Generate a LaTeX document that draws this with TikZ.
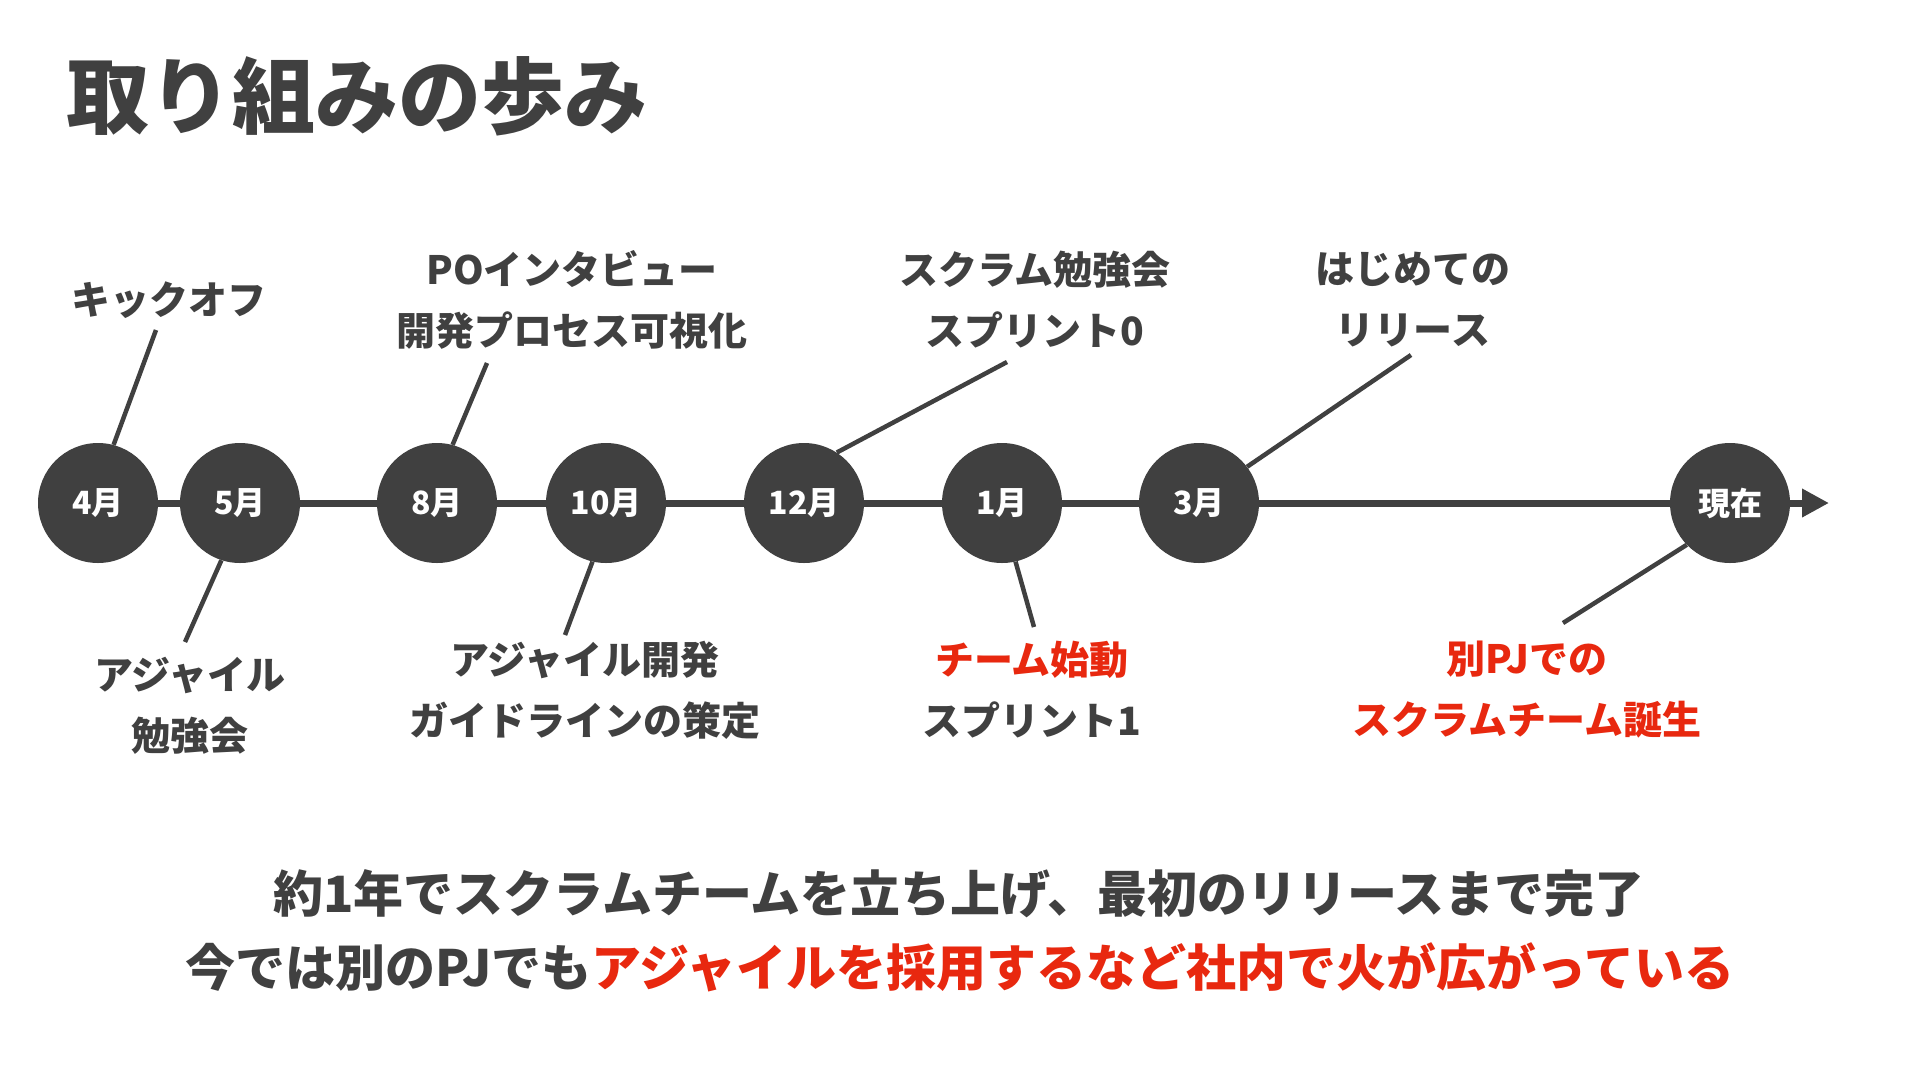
\documentclass[tikz,border=0pt]{standalone}
\usepackage{fontspec}
\setmainfont{Noto Sans CJK JP}
\usetikzlibrary{arrows.meta,backgrounds}
\definecolor{ink}{RGB}{64,64,64}
\definecolor{hot}{RGB}{232,40,15}
\tikzset{
  month/.style={circle,fill=ink,minimum size=120pt,inner sep=0pt,text=white,font=\bfseries\fontsize{32}{36}\selectfont},
  lbl/.style={inner sep=0pt,align=center,text=ink,font=\bfseries\fontsize{39}{61}\selectfont},
  conn/.style={draw=ink,line width=4.5pt},
  axis/.style={draw=ink,line width=7pt,-{Triangle[length=27pt,width=27pt]}},
}
\begin{document}
\begin{tikzpicture}[x=1pt,y=-1pt]
\useasboundingbox (0,0) rectangle (1920,1080);
% title
\node[anchor=west,inner sep=0pt,text=ink,font=\bfseries\fontsize{83}{90}\selectfont] (title) at (66,96) {取り組みの歩み};
% month circles
\node[month] (m4) at (98,503) {4月};
\node[month] (m5) at (240,503) {5月};
\node[month] (m8) at (437,503) {8月};
\node[month] (m10) at (606,503) {10月};
\node[month] (m12) at (804,503) {12月};
\node[month] (m1) at (1002,503) {1月};
\node[month] (m3) at (1199,503) {3月};
\node[month] (now) at (1730,503) {現在};
\coordinate (tip) at (1829,503);
\begin{scope}[on background layer]
\fill[white] (0,0) rectangle (1920,1080);
\draw[axis] (m4.center) -- (tip);
\end{scope}
% free ends of connectors
\coordinate (c4) at (156,330);
\coordinate (c8) at (487,363);
\coordinate (c12) at (1007,362);
\coordinate (c3) at (1411,355);
\coordinate (c5) at (185,642);
\coordinate (c10) at (565,635);
\coordinate (c1) at (1034,627);
\coordinate (cnow) at (1563,623);
\draw[conn] (m4.75) -- (c4);
\draw[conn] (m8.75) -- (c8);
\draw[conn] (m12.57) -- (c12);
\draw[conn] (m3.37) -- (c3);
\draw[conn] (m5.252) -- (c5);
\draw[conn] (m10.257) -- (c10);
\draw[conn] (m1.283) -- (c1);
\draw[conn] (now.224) -- (cnow);
% labels
\node[lbl] (l4) at (169,300) {キックオフ};
\node[lbl] (l8) at (572,300) {POインタビュー\\開発プロセス可視化};
\node[lbl] (l12) at (1035,300) {スクラム勉強会\\スプリント0};
\node[lbl] (l3) at (1413,300) {はじめての\\リリース};
\node[lbl] (l5) at (190,706) {アジャイル\\勉強会};
\node[lbl] (l10) at (585,690) {アジャイル開発\\ガイドラインの策定};
\node[lbl] (l1) at (1032,690) {\textcolor{hot}{チーム始動}\\スプリント1};
\node[lbl,text=hot] (lnow) at (1527,690) {別PJでの\\スクラムチーム誕生};
% summary
\node[inner sep=0pt,text=ink,font=\bfseries\fontsize{50}{56}\selectfont] (s1) at (959,894) {約1年でスクラムチームを立ち上げ、最初のリリースまで完了};
\node[inner sep=0pt,text=ink,font=\bfseries\fontsize{50}{56}\selectfont] (s2) at (960,967) {今では別のPJでも\textcolor{hot}{アジャイルを採用するなど社内で火が広がっている}};
\end{tikzpicture}
\end{document}
